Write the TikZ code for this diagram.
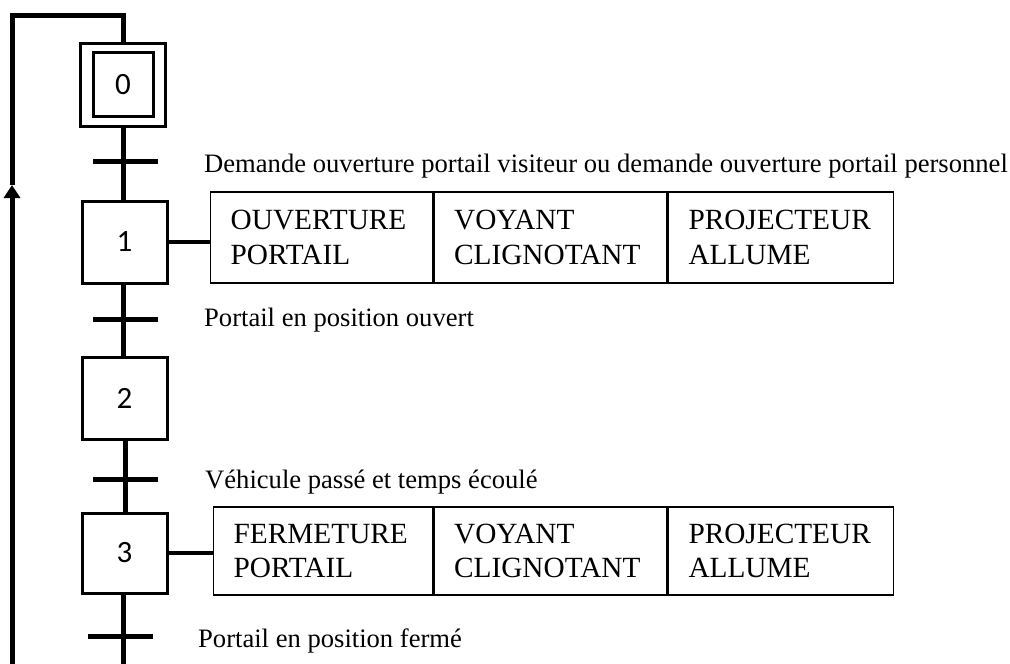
\documentclass[tikz,border=0pt]{standalone}
\usepackage{fontspec}
\setmainfont{Liberation Serif}
\newfontfamily\stepfont{Carlito}
\usetikzlibrary{arrows.meta}
\begin{document}
\begin{tikzpicture}[x=1pt,y=-1pt,
  stepbox/.style={draw,line width=3pt,minimum width=85pt,minimum height=82pt,
    inner sep=0pt,font=\stepfont\fontsize{31}{33}\selectfont},
  innerbox/.style={draw,line width=3pt,minimum width=60pt,minimum height=64pt,inner sep=0pt,
    font=\stepfont\fontsize{31}{33}\selectfont},
  link/.style={line width=5pt},
  bar/.style={line width=5pt},
  cond/.style={anchor=base west,inner sep=0pt,font=\fontsize{26.6}{30}\selectfont},
  cell/.style={draw,line width=1.4pt,anchor=west,align=left,inner xsep=20pt,inner ysep=0pt,
    font=\fontsize{29.3}{34.5}\selectfont}]
\useasboundingbox (0,0) rectangle (1010,664);

% steps
\node[stepbox,minimum height=83pt] (s0) at (123,84.5) {};
\node[innerbox] (s0i) at (s0.center) {0};
\node[stepbox] (s1) at (124.5,242) {1};
\node[stepbox] (s2) at (124.5,398) {2};
\node[stepbox,minimum height=80pt] (s3) at (124.5,553) {3};

% transition bars
\coordinate (t0l) at (93,161);  \coordinate (t0r) at (158,161);
\coordinate (t1l) at (93,319);  \coordinate (t1r) at (158,319);
\coordinate (t2l) at (93,479);  \coordinate (t2r) at (158,479);
\coordinate (t3l) at (88,636);  \coordinate (t3r) at (153,636);
\draw[bar] (t0l) -- (t0r);
\draw[bar] (t1l) -- (t1r);
\draw[bar] (t2l) -- (t2r);
\draw[bar] (t3l) -- (t3r);

% links between steps
\draw[link] (s0.south -| 123,0) -- (s1.north -| 123,0);
\draw[link] (s1.south -| 123,0) -- (s2.north -| 123,0);
\draw[link] (s2.south -| 125,0) -- (s3.north -| 125,0);
\coordinate (bot) at (123,664);
\draw[link] (s3.south -| 123,0) -- (bot);

% return loop
\coordinate (lb) at (12,664);
\coordinate (lt) at (12,15);
\coordinate (rt) at (123,15);
\coordinate (tip) at (12,185);
\draw[line width=5pt,-{Triangle[length=13pt,width=16pt]}] (lb) -- (tip);
\draw[link] (tip) -- (lt) -- (rt) -- (s0.north -| rt);

% receptivities
\node[cond] (c0) at (204,172) {Demande ouverture portail visiteur ou demande ouverture portail personnel};
\node[cond] (c1) at (204,326) {Portail en position ouvert};
\node[cond] (c2) at (205,488) {Véhicule passé et temps écoulé};
\node[cond] (c3) at (198,647) {Portail en position fermé};

% actions of step 1
\node[cell,minimum width=222pt,minimum height=91pt,text width=182pt] (a1a) at (210,237.5) {OUVERTURE\\PORTAIL};
\node[cell,minimum width=233pt,minimum height=91pt,text width=193pt] (a1b) at (a1a.east) {VOYANT\\CLIGNOTANT};
\node[cell,minimum width=225pt,minimum height=91pt,text width=185pt] (a1c) at (a1b.east) {PROJECTEUR\\ALLUME};
\draw[line width=4pt] (s1.east) -- (s1.east -| a1a.west);

% actions of step 3
\node[cell,minimum width=219pt,minimum height=88pt,text width=179pt] (a3a) at (213,551) {FERMETURE\\PORTAIL};
\node[cell,minimum width=233pt,minimum height=88pt,text width=193pt] (a3b) at (a3a.east) {VOYANT\\CLIGNOTANT};
\node[cell,minimum width=225pt,minimum height=88pt,text width=185pt] (a3c) at (a3b.east) {PROJECTEUR\\ALLUME};
\draw[line width=4pt] (s3.east) -- (s3.east -| a3a.west);
\end{tikzpicture}
\end{document}
